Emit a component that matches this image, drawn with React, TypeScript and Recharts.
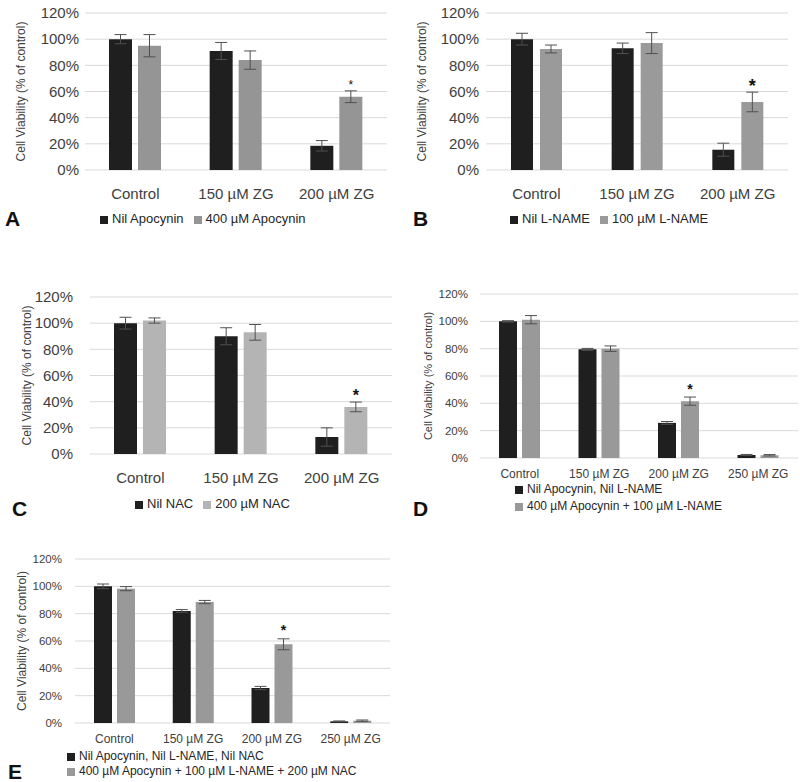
import { BarChart, Bar, XAxis, YAxis, CartesianGrid, Legend, ErrorBar, LabelList } from 'recharts';

const zg3 = ['Control', '150 µM ZG', '200 µM ZG'];
const zg4 = ['Control', '150 µM ZG', '200 µM ZG', '250 µM ZG'];
const yTicks = [0, 20, 40, 60, 80, 100, 120];
const yTitle = 'Cell Viability (% of control)';

// A: apocynin
const nilApoA = [100, 91, 18.5];
const nilApoAErr = [3.5, 6.5, 4];
const apoA = [95, 84, 56];
const apoAErr = [8.5, 7, 4.5];

// B: L-NAME
const nilLnameB = [100, 93, 15.5];
const nilLnameBErr = [4.5, 4, 5];
const lnameB = [92.5, 97, 52];
const lnameBErr = [3, 8, 7.5];

// C: NAC
const nilNacC = [100, 90, 13];
const nilNacCErr = [4.5, 6.5, 7];
const nacC = [102, 93, 36];
const nacCErr = [2, 6, 3.7];

// D: apocynin + L-NAME
const nilD = [100, 79.5, 25.7, 2.2];
const nilDErr = [0.5, 0.7, 1, 0.4];
const comboD = [101.2, 80, 41.6, 2];
const comboDErr = [3, 2, 3, 0.5];

// E: apocynin + L-NAME + NAC
const nilE = [100, 82, 25.6, 1.2];
const nilEErr = [1.7, 1, 1.2, 0.3];
const comboE = [98.3, 88.5, 57.6, 1.7];
const comboEErr = [1.5, 1.2, 4, 0.5];

const sigCategory = '200 µM ZG';

function rows(cats: string[], a: number[], aErr: number[], b: number[], bErr: number[]) {
  return cats.map((name, i) => ({
    name,
    a: a[i],
    aErr: aErr[i],
    b: b[i],
    bErr: bErr[i],
    sig: name === sigCategory ? '*' : '',
  }));
}

const FONT = '"Liberation Sans", Arial, sans-serif';
const BLACK = '#1f1f1f';
const TEXT = '#404040';

interface PanelProps {
  letter: string;
  letterPos: { left: number; top: number };
  left: number;
  top: number;
  height: number;
  margin: { top: number; right: number; bottom: number; left: number };
  yWidth: number;
  data: ReturnType<typeof rows>;
  names: [string, string];
  gray: string;
  barSize: number;
  barGap: number;
  yTickMargin: number;
  xTickMargin: number;
  yFont: number;
  xFont: number;
  titleFont: number;
  titleX: number;
  legend: { left: number; top: number; fontSize: number; lineHeight: number; vertical: boolean };
  star: { fontSize: number; offset: number; bold: boolean };
}

function Panel(p: PanelProps) {
  return (
    <div style={{ position: 'absolute', left: p.left, top: p.top, width: 400, height: p.height }}>
      <BarChart width={400} height={p.height} data={p.data} margin={p.margin} barSize={p.barSize} barGap={p.barGap}>
        <CartesianGrid vertical={false} stroke="#d9d9d9" />
        <XAxis
          dataKey="name"
          axisLine={false}
          tickLine={false}
          interval={0}
          tickMargin={p.xTickMargin}
          tick={{ fill: TEXT, fontSize: p.xFont, fontFamily: FONT }}
        />
        <YAxis
          domain={[0, 120]}
          ticks={yTicks}
          width={p.yWidth}
          axisLine={false}
          tickLine={false}
          tickMargin={p.yTickMargin}
          tickFormatter={(v: number) => `${v}%`}
          tick={{ fill: TEXT, fontSize: p.yFont, fontFamily: FONT }}
          label={{
            value: yTitle,
            angle: -90,
            position: 'insideLeft',
            offset: p.titleX,
            style: { textAnchor: 'middle', fill: TEXT, fontSize: p.titleFont, fontFamily: FONT },
          }}
        />
        <Legend
          layout={p.legend.vertical ? 'vertical' : 'horizontal'}
          align="center"
          verticalAlign="middle"
          iconType="square"
          iconSize={8}
          itemSorter="dataKey"
          formatter={(value: string) => <span style={{ color: '#262626' }}>{value}</span>}
          wrapperStyle={{
            left: p.legend.left,
            top: p.legend.top,
            width: 'auto',
            fontSize: p.legend.fontSize,
            lineHeight: `${p.legend.lineHeight}px`,
            fontFamily: FONT,
          }}
        />
        <Bar dataKey="a" name={p.names[0]} fill={BLACK} isAnimationActive={false}>
          <ErrorBar dataKey="aErr" width={6} stroke="#505050" strokeWidth={1} isAnimationActive={false} />
        </Bar>
        <Bar dataKey="b" name={p.names[1]} fill={p.gray} isAnimationActive={false}>
          <ErrorBar dataKey="bErr" width={6} stroke="#505050" strokeWidth={1} isAnimationActive={false} />
          <LabelList
            dataKey="sig"
            position="top"
            offset={p.star.offset}
            style={{ fill: '#111', fontSize: p.star.fontSize, fontWeight: p.star.bold ? 'bold' : 'normal', fontFamily: FONT }}
          />
        </Bar>
      </BarChart>
      <div
        style={{
          position: 'absolute',
          left: p.letterPos.left,
          top: p.letterPos.top,
          fontFamily: FONT,
          fontWeight: 'bold',
          fontSize: 21,
          lineHeight: '18px',
          color: '#111',
        }}
      >
        {p.letter}
      </div>
    </div>
  );
}

export default function App() {
  return (
    <div style={{ position: 'absolute', left: 0, top: 0, width: 800, height: 782, background: '#fff', overflow: 'hidden' }}>
      <Panel
        letter="A"
        letterPos={{ left: 5, top: 210 }}
        left={0}
        top={0}
        height={240}
        margin={{ top: 13, right: 13, bottom: 40, left: 0 }}
        yWidth={85}
        data={rows(zg3, nilApoA, nilApoAErr, apoA, apoAErr)}
        names={['Nil Apocynin', '400 µM Apocynin']}
        gray="#959595"
        barSize={23}
        barGap={6}
        yTickMargin={0}
        xTickMargin={12}
        yFont={15}
        xFont={15}
        titleFont={12}
        titleX={21}
        legend={{ left: 100, top: 211, fontSize: 13, lineHeight: 16, vertical: false }}
        star={{ fontSize: 12, offset: 8, bold: false }}
      />
      <Panel
        letter="B"
        letterPos={{ left: 13, top: 210 }}
        left={400}
        top={0}
        height={240}
        margin={{ top: 13, right: 12, bottom: 40, left: 0 }}
        yWidth={86}
        data={rows(zg3, nilLnameB, nilLnameBErr, lnameB, lnameBErr)}
        names={['Nil L-NAME', '100 µM L-NAME']}
        gray="#9a9a9a"
        barSize={22}
        barGap={7}
        yTickMargin={1}
        xTickMargin={12}
        yFont={15}
        xFont={15}
        titleFont={12}
        titleX={22}
        legend={{ left: 110, top: 211, fontSize: 13, lineHeight: 16, vertical: false }}
        star={{ fontSize: 18, offset: 10, bold: true }}
      />
      <Panel
        letter="C"
        letterPos={{ left: 12, top: 240 }}
        left={0}
        top={260}
        height={260}
        margin={{ top: 37, right: 8, bottom: 36, left: 0 }}
        yWidth={90}
        data={rows(zg3, nilNacC, nilNacCErr, nacC, nacCErr)}
        names={['Nil NAC', '200 µM NAC']}
        gray="#b4b4b4"
        barSize={23}
        barGap={6}
        yTickMargin={11}
        xTickMargin={12}
        yFont={15}
        xFont={15}
        titleFont={12}
        titleX={27}
        legend={{ left: 135, top: 236, fontSize: 13, lineHeight: 16, vertical: false }}
        star={{ fontSize: 16, offset: 6, bold: true }}
      />
      <Panel
        letter="D"
        letterPos={{ left: 13, top: 240 }}
        left={400}
        top={260}
        height={260}
        margin={{ top: 34, right: 2, bottom: 32, left: 0 }}
        yWidth={80}
        data={rows(zg4, nilD, nilDErr, comboD, comboDErr)}
        names={['Nil Apocynin, Nil L-NAME', '400 µM Apocynin + 100 µM L-NAME']}
        gray="#999999"
        barSize={18}
        barGap={5}
        yTickMargin={6}
        xTickMargin={5}
        yFont={11.5}
        xFont={12}
        titleFont={11}
        titleX={28}
        legend={{ left: 115, top: 221, fontSize: 12, lineHeight: 17, vertical: true }}
        star={{ fontSize: 14, offset: 7, bold: true }}
      />
      <Panel
        letter="E"
        letterPos={{ left: 8, top: 243 }}
        left={0}
        top={520}
        height={262}
        margin={{ top: 39, right: 10, bottom: 29, left: 0 }}
        yWidth={75}
        data={rows(zg4, nilE, nilEErr, comboE, comboEErr)}
        names={['Nil Apocynin, Nil L-NAME, Nil NAC', '400 µM Apocynin + 100 µM L-NAME + 200 µM NAC']}
        gray="#999999"
        barSize={18}
        barGap={5}
        yTickMargin={7}
        xTickMargin={5}
        yFont={11.5}
        xFont={12}
        titleFont={12}
        titleX={22}
        legend={{ left: 67, top: 229, fontSize: 12, lineHeight: 15, vertical: true }}
        star={{ fontSize: 14, offset: 9, bold: true }}
      />
    </div>
  );
}
